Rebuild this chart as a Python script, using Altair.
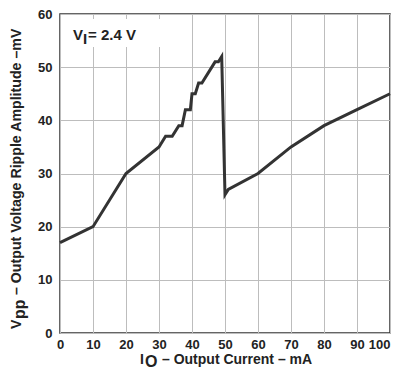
import altair as alt
import pandas as pd

# Data
current_ma = [0, 10, 20, 30, 32, 34, 36, 37, 38, 39.5, 40, 41, 42, 43, 47, 48, 49, 50, 51, 60, 70, 80, 90, 100]
ripple_mv = [17, 20, 30, 35, 37, 37, 39, 39, 42, 42, 45, 45, 47, 47, 51, 51, 52, 26, 27, 30, 35, 39, 42, 45]
x_ticks = [0, 10, 20, 30, 40, 50, 60, 70, 80, 90, 100]
y_ticks = [0, 10, 20, 30, 40, 50, 60]

df = pd.DataFrame({"current": current_ma, "ripple": ripple_mv})
one = pd.DataFrame({"k": [0]})

FONT = "Liberation Sans"
W, H = 330, 319

base = alt.Chart(df)

line = base.mark_line(color="#333333", strokeWidth=3, strokeJoin="miter").encode(
    x=alt.X("current:Q",
            scale=alt.Scale(domain=[0, 100], nice=False),
            axis=alt.Axis(values=x_ticks, title=None, labelPadding=5, labelFlush=False,
                          labelAlign={"condition": {"test": "datum.value == 100", "value": "right"},
                                      "value": "center"})),
    y=alt.Y("ripple:Q",
            scale=alt.Scale(domain=[0, 60], nice=False),
            axis=alt.Axis(values=y_ticks, title=None, labelPadding=8)),
)

box = alt.Chart(one).mark_rect(color="white").encode(
    x=alt.value(2), x2=alt.value(104), y=alt.value(5), y2=alt.value(33)
)

def txt(s, x, y, size=14, angle=0, align="left"):
    return alt.Chart(one).mark_text(
        text=s, font=FONT, fontSize=size, fontWeight="bold", color="#222222",
        align=align, baseline="alphabetic", angle=angle
    ).encode(x=alt.value(x), y=alt.value(y))

# annotation V_I = 2.4 V
ann = [
    txt("V", 13, 26, size=15),
    txt("I", 23, 30, size=15),
    txt("= 2.4 V", 28, 26, size=15),
]

# y-axis title
ytitle = [
    txt("V", -39, 315, angle=270),
    txt("pp", -35, 305, size=16, angle=270),
    txt("– Output Voltage Ripple Amplitude –mV", -39, 281, size=14.2, angle=270),
]

# x-axis title
xtitle = [
    txt("I", 80, 350),
    txt("O", 85, 353, size=16),
    txt("– Output Current – mA", 102, 350),
]

chart = alt.layer(line, box, *ann, *ytitle, *xtitle).properties(
    width=W, height=H,
    autosize=alt.AutoSizeParams(type="none"),
    padding={"left": 52, "top": 6, "right": 2, "bottom": 37},
).configure_view(
    stroke="#333333", strokeWidth=1.5
).configure_axis(
    domain=False, ticks=False, tickSize=0,
    grid=True, gridColor="#bdbdbd", gridWidth=1,
    labelFont=FONT, labelFontSize=13, labelFontWeight="bold", labelColor="#222222",
)

chart.save("out.html", embed_options={"renderer": "svg", "actions": False})
